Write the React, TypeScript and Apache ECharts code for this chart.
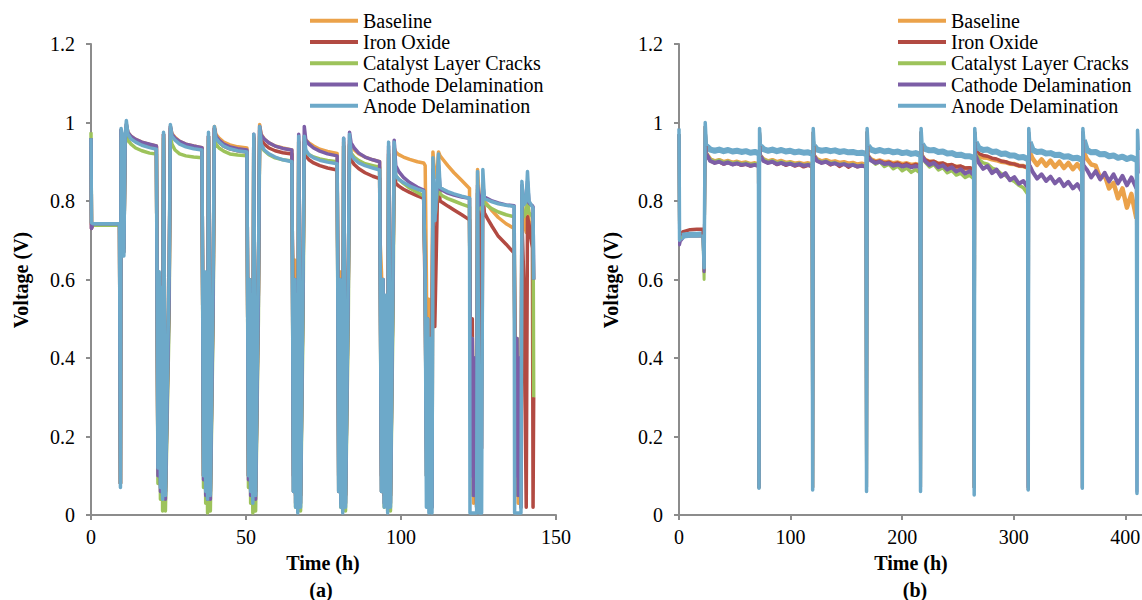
import React, { useEffect, useRef } from "react";
import * as echarts from "echarts";

const SERIES_NAMES = [
  "Baseline",
  "Iron Oxide",
  "Catalyst Layer Cracks",
  "Cathode Delamination",
  "Anode Delamination",
];
const SERIES_COLORS = ["#EBA24A", "#B24A42", "#9DC35B", "#7C5EA6", "#6DA9C9"];

const X_TICKS_A = { min: 0, max: 150, interval: 50 };
const X_TICKS_B = { min: 0, max: 415, interval: 100 };
const Y_TICKS = { min: 0, max: 1.2, interval: 0.2 };

// ---------- Panel (a): time in hours ----------
const timeA = [
  0, 0.15, 0.6, 9.2, 9.5, 9.7, 10.2, 10.6, 11.0,
  11.4, 11.9, 12.9, 14.4, 16.4, 18.9, 21.1,
  21.25, 21.6, 22.0, 22.4, 22.8, 23.1, 23.4, 24.0, 25.2,
  25.6, 26.1, 27.1, 28.6, 30.6, 33.1, 35.8,
  35.95, 36.3, 36.7, 37.0, 37.3, 37.6, 37.9, 38.5, 39.4,
  39.8, 40.3, 41.3, 42.8, 44.8, 47.3, 50.3,
  50.45, 50.8, 51.2, 51.5, 51.8, 52.2, 52.5, 53.1, 54.0,
  54.4, 54.9, 55.9, 57.4, 59.4, 61.9, 64.8,
  64.95, 65.3, 65.7, 66.0, 66.3, 66.7, 67.0, 67.6, 68.4,
  68.8, 69.3, 70.3, 71.8, 73.8, 76.3, 79.4,
  79.55, 79.9, 80.3, 80.6, 80.9, 81.2, 81.5, 82.1, 83.0,
  83.4, 83.9, 84.9, 86.4, 88.4, 90.9, 93.1,
  93.25, 93.7, 94.2, 94.6, 95.0, 95.7, 96.0, 96.6, 97.4,
  97.8, 98.3, 99.3, 100.8, 102.8, 105.3, 107.3,
  107.8, 108.2, 108.6, 109.0, 109.4, 110.0, 110.3, 110.9, 111.7,
  112.1, 112.6, 113.6, 115.1, 117.1, 119.6, 122.1,
  122.25, 122.6, 123.0, 123.4, 123.8, 124.4, 124.7, 125.3, 126.0,
  126.4, 126.9, 127.9, 129.4, 131.4, 133.9, 136.5,
  136.65, 137.0, 137.4, 137.8, 138.2, 138.7, 139.0, 139.6, 140.4,
  140.8, 141.3, 142.0, 142.4, 142.6, 142.8,
];

const baselineA = [
  0.96, 0.74, 0.742, 0.742, 0.08, 0.98, 0.95, 0.68, 0.95,
  0.995, 0.975, 0.965, 0.957, 0.95, 0.944, 0.94,
  0.68, 0.12, 0.6, 0.08, 0.55, 0.05, 0.97, 0.06, 0.58,
  0.99, 0.972, 0.962, 0.952, 0.945, 0.94, 0.936,
  0.68, 0.1, 0.6, 0.07, 0.5, 0.05, 0.965, 0.06, 0.58,
  0.99, 0.97, 0.96, 0.95, 0.943, 0.938, 0.935,
  0.68, 0.1, 0.6, 0.07, 0.5, 0.04, 0.965, 0.06, 0.58,
  0.995, 0.97, 0.958, 0.948, 0.94, 0.935, 0.93,
  0.7, 0.6, 0.65, 0.1, 0.5, 0.02, 0.955, 0.05, 0.6,
  0.965, 0.955, 0.948, 0.94, 0.932, 0.926, 0.921,
  0.7, 0.5, 0.62, 0.1, 0.5, 0.01, 0.95, 0.05, 0.6,
  0.955, 0.94, 0.93, 0.92, 0.912, 0.905, 0.9,
  0.7, 0.62, 0.45, 0.3, 0.2, 0.03, 0.93, 0.05, 0.6,
  0.935, 0.925, 0.918, 0.912, 0.906, 0.9, 0.897,
  0.89, 0.6, 0.05, 0.55, 0.04, 0.5, 0.925, 0.86, 0.88,
  0.925, 0.915, 0.905, 0.89, 0.872, 0.852, 0.832,
  0.5, 0.05, 0.4, 0.03, 0.3, 0.02, 0.88, 0.8, 0.8,
  0.82, 0.8, 0.79, 0.775, 0.758, 0.742, 0.73,
  0.5, 0.05, 0.4, 0.03, 0.3, 0.02, 0.82, 0.75, 0.72,
  0.82, 0.75, 0.72, 0.7, 0.68, 0.6,
];

const ironOxideA = [
  0.96, 0.73, 0.74, 0.742, 0.08, 0.98, 0.95, 0.68, 0.95,
  0.99, 0.972, 0.962, 0.955, 0.948, 0.943, 0.938,
  0.68, 0.12, 0.6, 0.08, 0.55, 0.05, 0.97, 0.06, 0.58,
  0.985, 0.968, 0.958, 0.95, 0.943, 0.938, 0.933,
  0.68, 0.1, 0.6, 0.07, 0.5, 0.05, 0.965, 0.06, 0.58,
  0.985, 0.962, 0.95, 0.94, 0.933, 0.928, 0.925,
  0.68, 0.1, 0.6, 0.07, 0.5, 0.04, 0.96, 0.06, 0.58,
  0.98, 0.955, 0.945, 0.935, 0.928, 0.923, 0.92,
  0.7, 0.1, 0.6, 0.05, 0.5, 0.02, 0.95, 0.05, 0.6,
  0.95, 0.915, 0.905, 0.897, 0.89, 0.884, 0.879,
  0.7, 0.1, 0.6, 0.05, 0.5, 0.02, 0.94, 0.05, 0.6,
  0.945, 0.905, 0.893, 0.882, 0.872, 0.863, 0.857,
  0.7, 0.1, 0.6, 0.05, 0.5, 0.02, 0.92, 0.05, 0.6,
  0.92, 0.845, 0.838, 0.83, 0.822, 0.813, 0.807,
  0.55, 0.2, 0.05, 0.25, 0.06, 0.5, 0.8, 0.48, 0.79,
  0.86, 0.8, 0.795, 0.787, 0.777, 0.765, 0.752,
  0.6, 0.1, 0.5, 0.05, 0.4, 0.03, 0.82, 0.76, 0.17,
  0.82, 0.77, 0.755, 0.735, 0.71, 0.69, 0.667,
  0.55, 0.1, 0.45, 0.05, 0.4, 0.03, 0.76, 0.6, 0.02,
  0.76, 0.74, 0.7, 0.68, 0.02, 0.3,
];

const catalystA = [
  0.975, 0.745, 0.738, 0.738, 0.08, 0.96, 0.94, 0.67, 0.94,
  0.97, 0.955, 0.945, 0.935, 0.928, 0.922, 0.92,
  0.66, 0.08, 0.55, 0.04, 0.45, 0.01, 0.96, 0.01, 0.5,
  0.965, 0.945, 0.93, 0.92, 0.915, 0.912, 0.91,
  0.65, 0.07, 0.52, 0.03, 0.42, 0.005, 0.955, 0.01, 0.5,
  0.965, 0.945, 0.935, 0.927, 0.92, 0.917, 0.915,
  0.65, 0.07, 0.52, 0.03, 0.42, 0.005, 0.955, 0.01, 0.5,
  0.965, 0.94, 0.928, 0.918, 0.91, 0.905, 0.902,
  0.66, 0.06, 0.55, 0.02, 0.45, 0.01, 0.95, 0.01, 0.5,
  0.945, 0.925, 0.918, 0.912, 0.907, 0.903, 0.9,
  0.66, 0.06, 0.55, 0.02, 0.45, 0.01, 0.94, 0.01, 0.5,
  0.94, 0.922, 0.912, 0.903, 0.895, 0.89, 0.886,
  0.66, 0.06, 0.55, 0.02, 0.45, 0.01, 0.91, 0.01, 0.5,
  0.91, 0.865, 0.855, 0.845, 0.833, 0.822, 0.813,
  0.6, 0.1, 0.5, 0.05, 0.45, 0.02, 0.87, 0.75, 0.82,
  0.87, 0.818, 0.812, 0.806, 0.8, 0.792, 0.785,
  0.55, 0.1, 0.45, 0.05, 0.4, 0.02, 0.83, 0.78, 0.79,
  0.83, 0.795, 0.788, 0.78, 0.772, 0.765, 0.76,
  0.55, 0.1, 0.45, 0.05, 0.4, 0.02, 0.8, 0.76, 0.77,
  0.8, 0.77, 0.765, 0.76, 0.755, 0.3,
];

const cathodeA = [
  0.96, 0.73, 0.742, 0.742, 0.08, 0.98, 0.95, 0.67, 0.95,
  0.995, 0.975, 0.965, 0.957, 0.95, 0.945, 0.94,
  0.68, 0.1, 0.6, 0.06, 0.5, 0.05, 0.97, 0.04, 0.55,
  0.99, 0.97, 0.96, 0.952, 0.945, 0.94, 0.936,
  0.68, 0.09, 0.58, 0.05, 0.48, 0.04, 0.965, 0.04, 0.55,
  0.985, 0.965, 0.955, 0.945, 0.938, 0.933, 0.93,
  0.68, 0.09, 0.58, 0.05, 0.48, 0.04, 0.97, 0.04, 0.55,
  0.99, 0.968, 0.958, 0.948, 0.94, 0.934, 0.93,
  0.7, 0.06, 0.6, 0.03, 0.5, 0.02, 0.97, 0.03, 0.58,
  0.99, 0.955, 0.945, 0.935, 0.927, 0.92, 0.915,
  0.7, 0.06, 0.6, 0.03, 0.5, 0.02, 0.96, 0.03, 0.58,
  0.975, 0.948, 0.935, 0.922, 0.912, 0.905, 0.9,
  0.7, 0.06, 0.6, 0.03, 0.5, 0.02, 0.94, 0.03, 0.58,
  0.955, 0.89, 0.875, 0.86, 0.847, 0.835, 0.828,
  0.6, 0.1, 0.5, 0.05, 0.45, 0.02, 0.88, 0.75, 0.84,
  0.89, 0.83, 0.826, 0.82, 0.815, 0.81, 0.807,
  0.55, 0.1, 0.45, 0.05, 0.4, 0.02, 0.84, 0.79, 0.8,
  0.84, 0.81, 0.806, 0.8, 0.795, 0.79, 0.788,
  0.55, 0.1, 0.45, 0.05, 0.4, 0.02, 0.84, 0.8, 0.8,
  0.85, 0.795, 0.79, 0.788, 0.785, 0.6,
];

const anodeA = [
  0.96, 0.745, 0.742, 0.742, 0.07, 0.985, 0.96, 0.66, 0.96,
  1.005, 0.97, 0.958, 0.95, 0.942, 0.936, 0.932,
  0.68, 0.12, 0.62, 0.07, 0.58, 0.04, 0.975, 0.05, 0.62,
  0.995, 0.965, 0.955, 0.945, 0.938, 0.933, 0.93,
  0.68, 0.1, 0.62, 0.06, 0.56, 0.04, 0.975, 0.05, 0.62,
  0.99, 0.96, 0.95, 0.94, 0.933, 0.928, 0.925,
  0.68, 0.1, 0.6, 0.06, 0.56, 0.03, 0.97, 0.05, 0.62,
  0.99, 0.945, 0.93, 0.92, 0.912, 0.905, 0.9,
  0.68, 0.06, 0.6, 0.02, 0.56, 0.005, 0.965, 0.02, 0.62,
  0.965, 0.93, 0.918, 0.91, 0.904, 0.899, 0.895,
  0.68, 0.06, 0.6, 0.02, 0.56, 0.005, 0.96, 0.02, 0.62,
  0.97, 0.918, 0.907, 0.897, 0.89, 0.884, 0.879,
  0.68, 0.06, 0.6, 0.02, 0.56, 0.005, 0.95, 0.02, 0.62,
  0.95, 0.865, 0.855, 0.847, 0.838, 0.83, 0.825,
  0.6, 0.02, 0.5, 0.005, 0.45, 0.005, 0.91, 0.75, 0.85,
  0.92, 0.835, 0.83, 0.824, 0.818, 0.812, 0.807,
  0.005, 0.005, 0.005, 0.005, 0.005, 0.005, 0.875, 0.005, 0.005,
  0.88, 0.807, 0.803, 0.798, 0.793, 0.789, 0.786,
  0.005, 0.005, 0.005, 0.005, 0.005, 0.005, 0.85, 0.79, 0.8,
  0.875, 0.8, 0.79, 0.785, 0.78, 0.6,
];

// ---------- Panel (b): time in hours ----------
const timeB = [
  0, 0.5, 1.5, 4, 10, 16, 21.5, 22.5, 23.5, 24.5,
  28, 32, 36, 40, 44, 48, 52, 56, 60, 64, 68, 71.2,
  71.7, 72.2, 73.0,
  75.7, 79.7, 83.7, 87.7, 91.7, 95.7, 99.7, 103.7, 107.7, 111.7, 115.7, 119.3,
  119.8, 120.3, 121.1,
  123.8, 127.8, 131.8, 135.8, 139.8, 143.8, 147.8, 151.8, 155.8, 159.8, 163.8, 167.6,
  168.1, 168.6, 169.4,
  172.1, 176.1, 180.1, 184.1, 188.1, 192.1, 196.1, 200.1, 204.1, 208.1, 212.1, 216.0,
  216.5, 217.0, 217.8,
  220.5, 224.5, 228.5, 232.5, 236.5, 240.5, 244.5, 248.5, 252.5, 256.5, 260.5, 264.1,
  264.6, 265.1, 265.9,
  268.6, 272.6, 276.6, 280.6, 284.6, 288.6, 292.6, 296.6, 300.6, 304.6, 308.6, 312.5,
  313.0, 313.5, 314.3,
  317, 321, 325, 329, 333, 337, 341, 345, 349, 353, 357, 361,
  361.5, 362.0, 362.8,
  365.5, 369.5, 373.5, 377.5, 381.5, 385.5, 389.5, 393.5, 397.5, 401.5, 405.5, 410,
  410.5, 411.0, 411.6,
];

// start times of the short shut-down spikes in panel (b)
const spikeStartsB = [0, 22.5, 71.7, 119.8, 168.1, 216.5, 264.6, 313.0, 361.5, 410.5];

const baselineB = [
  0.97, 0.7, 0.705, 0.712, 0.713, 0.713, 0.713, 0.62, 0.99, 0.92,
  0.906, 0.901, 0.904, 0.899, 0.902, 0.897, 0.9, 0.896, 0.898, 0.894, 0.896, 0.893,
  0.07, 0.975, 0.915,
  0.906, 0.901, 0.904, 0.899, 0.902, 0.897, 0.899, 0.895, 0.897, 0.894, 0.896, 0.893,
  0.07, 0.975, 0.915,
  0.906, 0.901, 0.904, 0.899, 0.901, 0.897, 0.899, 0.895, 0.897, 0.893, 0.895, 0.892,
  0.07, 0.975, 0.915,
  0.906, 0.901, 0.903, 0.899, 0.9, 0.896, 0.898, 0.894, 0.896, 0.892, 0.894, 0.891,
  0.07, 0.975, 0.915,
  0.905, 0.9, 0.9, 0.895, 0.895, 0.891, 0.891, 0.887, 0.887, 0.883, 0.883, 0.88,
  0.07, 0.975, 0.925,
  0.915, 0.911, 0.91, 0.906, 0.904, 0.9, 0.899, 0.895, 0.894, 0.89, 0.889, 0.885,
  0.07, 0.975, 0.925,
  0.908, 0.892, 0.906, 0.89, 0.903, 0.887, 0.9, 0.884, 0.897, 0.881, 0.894, 0.878,
  0.07, 0.975, 0.925,
  0.908, 0.893, 0.89, 0.858, 0.866, 0.832, 0.846, 0.807, 0.832, 0.783, 0.818, 0.755,
  0.565, null, null,
];

const ironOxideB = [
  0.97, 0.71, 0.718, 0.722, 0.727, 0.728, 0.728, 0.62, 0.99, 0.92,
  0.903, 0.897, 0.9, 0.894, 0.898, 0.893, 0.896, 0.891, 0.894, 0.889, 0.892, 0.89,
  0.07, 0.975, 0.912,
  0.903, 0.897, 0.9, 0.893, 0.897, 0.891, 0.895, 0.889, 0.893, 0.887, 0.891, 0.888,
  0.07, 0.975, 0.912,
  0.903, 0.897, 0.9, 0.892, 0.897, 0.888, 0.895, 0.886, 0.893, 0.887, 0.891, 0.886,
  0.07, 0.975, 0.912,
  0.905, 0.899, 0.902, 0.896, 0.899, 0.893, 0.897, 0.891, 0.895, 0.889, 0.893, 0.89,
  0.07, 0.975, 0.915,
  0.905, 0.9, 0.901, 0.895, 0.897, 0.891, 0.893, 0.887, 0.889, 0.884, 0.885, 0.88,
  0.07, 0.975, 0.93,
  0.921, 0.916, 0.914, 0.909, 0.907, 0.902, 0.9, 0.896, 0.894, 0.89, 0.889, 0.885,
  0.064, null, null,
  null, null, null, null, null, null, null, null, null, null, null, null,
  null, null, null,
  null, null, null, null, null, null, null, null, null, null, null, null,
  null, null, null,
];

const catalystB = [
  0.97, 0.7, 0.71, 0.713, 0.713, 0.713, 0.713, 0.6, 0.99, 0.92,
  0.906, 0.9, 0.904, 0.898, 0.901, 0.896, 0.899, 0.894, 0.897, 0.893, 0.895, 0.892,
  0.07, 0.975, 0.915,
  0.906, 0.9, 0.903, 0.897, 0.9, 0.895, 0.898, 0.893, 0.896, 0.891, 0.894, 0.891,
  0.07, 0.975, 0.915,
  0.905, 0.899, 0.902, 0.896, 0.898, 0.893, 0.896, 0.891, 0.894, 0.889, 0.891, 0.889,
  0.07, 0.975, 0.915,
  0.905, 0.894, 0.9, 0.888, 0.894, 0.882, 0.889, 0.877, 0.884, 0.873, 0.88, 0.872,
  0.07, 0.975, 0.915,
  0.9, 0.887, 0.893, 0.879, 0.885, 0.872, 0.878, 0.866, 0.871, 0.86, 0.866, 0.857,
  0.07, 0.975, 0.92,
  0.906, 0.897, 0.894, 0.884, 0.88, 0.87, 0.865, 0.855, 0.85, 0.84, 0.834, 0.818,
  0.59, null, null,
  null, null, null, null, null, null, null, null, null, null, null, null,
  null, null, null,
  null, null, null, null, null, null, null, null, null, null, null, null,
  null, null, null,
];

const cathodeB = [
  0.97, 0.688, 0.7, 0.71, 0.712, 0.712, 0.712, 0.62, 0.99, 0.92,
  0.902, 0.897, 0.9, 0.895, 0.898, 0.893, 0.896, 0.892, 0.894, 0.89, 0.892, 0.889,
  0.07, 0.975, 0.915,
  0.902, 0.897, 0.9, 0.894, 0.897, 0.893, 0.895, 0.891, 0.894, 0.89, 0.892, 0.889,
  0.07, 0.975, 0.915,
  0.902, 0.897, 0.9, 0.894, 0.896, 0.892, 0.894, 0.89, 0.892, 0.888, 0.89, 0.887,
  0.07, 0.975, 0.915,
  0.903, 0.897, 0.9, 0.894, 0.896, 0.89, 0.893, 0.888, 0.891, 0.886, 0.889, 0.886,
  0.07, 0.975, 0.915,
  0.902, 0.892, 0.897, 0.886, 0.891, 0.88, 0.886, 0.875, 0.881, 0.87, 0.876, 0.866,
  0.07, 0.975, 0.915,
  0.898, 0.882, 0.889, 0.871, 0.88, 0.862, 0.871, 0.853, 0.861, 0.844, 0.851, 0.835,
  0.07, 0.975, 0.89,
  0.874, 0.857, 0.868, 0.851, 0.862, 0.845, 0.856, 0.838, 0.849, 0.832, 0.843, 0.825,
  0.07, 0.975, 0.89,
  0.88, 0.86, 0.876, 0.855, 0.872, 0.85, 0.868, 0.845, 0.864, 0.84, 0.86, 0.832,
  0.06, 0.975, 0.87,
];

const anodeB = [
  0.985, 0.7, 0.705, 0.712, 0.714, 0.714, 0.715, 0.63, 1.0, 0.94,
  0.931, 0.928, 0.931, 0.927, 0.93, 0.926, 0.928, 0.925, 0.927, 0.923, 0.925, 0.922,
  0.068, 0.985, 0.94,
  0.932, 0.928, 0.931, 0.927, 0.93, 0.926, 0.928, 0.924, 0.926, 0.923, 0.924, 0.921,
  0.064, 0.985, 0.94,
  0.931, 0.928, 0.93, 0.927, 0.929, 0.925, 0.927, 0.924, 0.925, 0.922, 0.923, 0.92,
  0.06, 0.985, 0.94,
  0.931, 0.927, 0.93, 0.926, 0.928, 0.924, 0.926, 0.922, 0.924, 0.92, 0.922, 0.918,
  0.06, 0.985, 0.945,
  0.933, 0.929, 0.93, 0.925, 0.926, 0.921, 0.922, 0.917, 0.918, 0.914, 0.914, 0.91,
  0.051, 0.985, 0.95,
  0.935, 0.93, 0.931, 0.925, 0.926, 0.92, 0.921, 0.916, 0.916, 0.911, 0.912, 0.907,
  0.064, 0.985, 0.95,
  0.93, 0.925, 0.926, 0.921, 0.922, 0.917, 0.918, 0.913, 0.914, 0.909, 0.91, 0.905,
  0.068, 0.985, 0.955,
  0.93, 0.924, 0.925, 0.919, 0.92, 0.914, 0.916, 0.91, 0.913, 0.907, 0.911, 0.905,
  0.055, 0.98, 0.93,
];

const VALUES_A = [baselineA, ironOxideA, catalystA, cathodeA, anodeA];
const VALUES_B = [baselineB, ironOxideB, catalystB, cathodeB, anodeB];

// line widths (style, not data)
const WIDTH_A = [3.5, 3.5, 3.5, 3.5, 3.5];
const BAND_WIDTH_B = [4.5, 3.5, 3.5, 4, 6];
const SPIKE_WIDTH_B = [3, 3, 3, 3, 3.5];

const SERIF = "Liberation Serif";
const AXIS_GRAY = "#8c8c8c";

function pairs(t: number[], v: (number | null)[], keep?: boolean[]) {
  return t.map((x, i) => [x, v[i] == null || (keep && !keep[i]) ? "-" : v[i]]);
}

export default function App() {
  const ref = useRef<HTMLDivElement>(null);

  useEffect(() => {
    if (!ref.current) return;
    const chart = echarts.init(ref.current, undefined, { renderer: "svg" });

    // which panel-(b) samples belong to a shut-down spike
    const isSpike = timeB.map((t) => spikeStartsB.some((s) => t >= s - 1e-6 && t <= s + 1.01));
    const spikeKeep = isSpike.map((s, i) => s || !!isSpike[i - 1] || !!isSpike[i + 1]);
    const bandKeep = isSpike.map((s) => !s);

    const labelStyle = {
      fontFamily: SERIF,
      fontSize: 20,
      color: "#000",
      formatter: "{t|{value}}",
      rich: { t: { fontFamily: SERIF, fontSize: 20, color: "#000" } },
    };

    const xAxisBase = (gridIndex: number, ticks: { min: number; max: number; interval: number }) => ({
      gridIndex,
      type: "value" as const,
      min: ticks.min,
      max: ticks.max,
      interval: ticks.interval,
      axisLine: { show: true, onZero: false, lineStyle: { color: AXIS_GRAY, width: 2 } },
      axisTick: { show: true, length: 5, lineStyle: { color: AXIS_GRAY, width: 2 } },
      splitLine: { show: false },
      axisLabel: { ...labelStyle, margin: 12, showMaxLabel: gridIndex === 0 },
    });
    const yAxisBase = (gridIndex: number) => ({
      gridIndex,
      type: "value" as const,
      min: Y_TICKS.min,
      max: Y_TICKS.max,
      interval: Y_TICKS.interval,
      axisLine: { show: true, onZero: false, lineStyle: { color: AXIS_GRAY, width: 2 } },
      axisTick: { show: true, length: 5, lineStyle: { color: AXIS_GRAY, width: 2 } },
      splitLine: { show: false },
      axisLabel: { ...labelStyle, margin: 16 },
    });

    const lineSeries = (name: string, i: number, p: number, data: any[], width: number) => ({
      type: "line",
      name,
      xAxisIndex: p,
      yAxisIndex: p,
      data,
      showSymbol: false,
      symbol: "none",
      connectNulls: false,
      lineStyle: { color: SERIES_COLORS[i], width, join: "round" },
      itemStyle: { color: SERIES_COLORS[i] },
      silent: true,
    });

    const series: any[] = [];
    SERIES_NAMES.forEach((name, i) => {
      series.push(lineSeries(name, i, 0, pairs(timeA, VALUES_A[i]), WIDTH_A[i]));
    });
    SERIES_NAMES.forEach((name, i) => {
      series.push(lineSeries(name, i, 1, pairs(timeB, VALUES_B[i], bandKeep), BAND_WIDTH_B[i]));
    });
    SERIES_NAMES.forEach((name, i) => {
      series.push(lineSeries(name, i, 1, pairs(timeB, VALUES_B[i], spikeKeep), SPIKE_WIDTH_B[i]));
    });

    const legendBase = (left: number) => ({
      left,
      top: 10,
      orient: "vertical" as const,
      icon: "rect",
      itemWidth: 48,
      itemHeight: 4,
      itemGap: 0,
      padding: 0,
      selectedMode: false,
      data: SERIES_NAMES,
      textStyle: { fontFamily: SERIF, fontSize: 20, color: "#000", lineHeight: 21.3 },
    });

    const textEl = (text: string, x: number, y: number, rotation = 0) => ({
      type: "text",
      x,
      y,
      rotation,
      style: {
        text,
        fontFamily: SERIF,
        fontSize: 20,
        fontWeight: "bold",
        fill: "#000",
        textAlign: "center",
        textVerticalAlign: "middle",
        verticalAlign: "middle",
      },
    });

    chart.setOption({
      animation: false,
      backgroundColor: "#fff",
      textStyle: { fontFamily: SERIF },
      grid: [
        { left: 91, top: 44, width: 465, height: 471, containLabel: false, outerBoundsMode: "none" },
        { left: 679, top: 44, width: 463, height: 471, containLabel: false, outerBoundsMode: "none" },
      ],
      xAxis: [xAxisBase(0, X_TICKS_A), xAxisBase(1, X_TICKS_B)],
      yAxis: [yAxisBase(0), yAxisBase(1)],
      legend: [legendBase(310), legendBase(898)],
      series,
      graphic: [
        textEl("Voltage (V)", 21, 280, Math.PI / 2),
        textEl("Voltage (V)", 611, 280, Math.PI / 2),
        textEl("Time (h)", 323, 563),
        textEl("Time (h)", 911, 563),
        textEl("(a)", 321, 590),
        textEl("(b)", 915, 590),
      ],
    } as any);

    return () => chart.dispose();
  }, []);

  return (
    <div
      ref={ref}
      style={{ position: "fixed", left: 0, top: 0, width: 1142, height: 600, background: "#fff" }}
    />
  );
}
